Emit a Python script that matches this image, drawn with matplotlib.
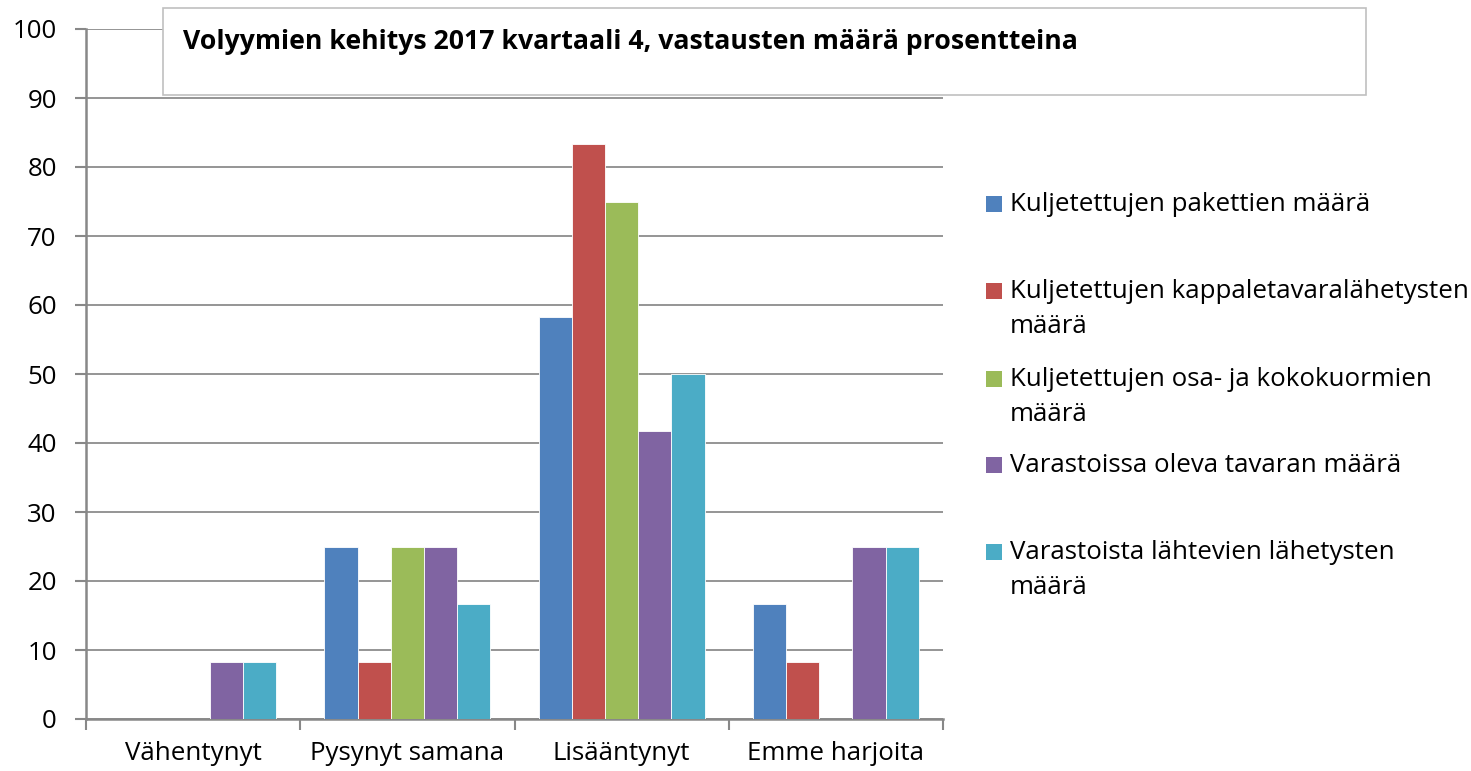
import matplotlib

matplotlib.use("Agg")
import matplotlib.pyplot as plt
from matplotlib.patches import Rectangle
import numpy as np

plt.rcParams["font.family"] = ["Open Sans", "DejaVu Sans"]

TITLE = "Volyymien kehitys 2017 kvartaali 4, vastausten määrä prosentteina"

categories = ["Vähentynyt", "Pysynyt samana", "Lisääntynyt", "Emme harjoita"]

series_labels = [
    "Kuljetettujen pakettien määrä",
    "Kuljetettujen kappaletavaralähetysten\nmäärä",
    "Kuljetettujen osa- ja kokokuormien\nmäärä",
    "Varastoissa oleva tavaran määrä",
    "Varastoista lähtevien lähetysten\nmäärä",
]

pakettien = [0, 25, 58.33, 16.67]
kappaletavara = [0, 8.33, 83.33, 8.33]
kuormien = [0, 25, 75, 0]
varastoissa = [8.33, 25, 41.67, 25]
varastoista = [8.33, 16.67, 50, 25]

series = [pakettien, kappaletavara, kuormien, varastoissa, varastoista]
colors = ["#4F81BD", "#C0504D", "#9BBB59", "#8064A2", "#4BACC6"]

W, H = 1471, 771
FS = 18.6

fig = plt.figure(figsize=(W / 100, H / 100), dpi=100)
ax = fig.add_axes([86 / W, 1 - 719 / H, (943 - 86) / W, (719 - 29) / H])

x = np.arange(len(categories))
width = 0.155
for i, (vals, col) in enumerate(zip(series, colors)):
    offs = (i - 2) * width
    ax.bar(x + offs, vals, width, color=col, edgecolor="white", linewidth=0.6, zorder=3)

ax.set_xlim(-0.5, len(categories) - 0.5)
ax.set_ylim(0, 100)
ax.set_yticks(range(0, 101, 10))
ax.set_xticks(x)
ax.set_xticklabels(categories)
ax.set_xticks(np.arange(-0.5, len(categories)), minor=True)
ax.tick_params(axis="x", which="major", length=0, pad=16, labelsize=FS)
ax.tick_params(axis="x", which="minor", length=8, width=1.5, color="#888888")
ax.tick_params(axis="y", length=8, width=1.5, color="#888888", labelsize=FS, pad=13)
ax.grid(axis="y", color="#8c8c8c", linewidth=1.3, zorder=0)
for side in ("top", "right"):
    ax.spines[side].set_visible(False)
for side in ("left", "bottom"):
    ax.spines[side].set_color("#888888")
    ax.spines[side].set_linewidth(1.8)

# title box
fig.patches.append(Rectangle((163 / W, 1 - 95 / H), (1366 - 163) / W, (95 - 8) / H,
                             transform=fig.transFigure, facecolor="white",
                             edgecolor="#c0c0c0", linewidth=1.2, zorder=5))
fig.text(183 / W, 1 - 49 / H, TITLE, fontsize=19.2, fontweight="bold",
         va="baseline", ha="left", zorder=6)

# legend, placed by hand like the Excel one
legend_y = [203, 290, 378, 464, 551]
for lab, col, yy in zip(series_labels, colors, legend_y):
    fig.patches.append(Rectangle((986 / W, 1 - (yy + 9) / H), 16 / W, 16 / H,
                                 transform=fig.transFigure, facecolor=col,
                                 edgecolor="none"))
    for k, line in enumerate(lab.split("\n")):
        fig.text(1010 / W, 1 - (yy + 8 + 35 * k) / H, line, fontsize=FS,
                 va="baseline", ha="left")

fig.savefig("out.png", dpi=100)
